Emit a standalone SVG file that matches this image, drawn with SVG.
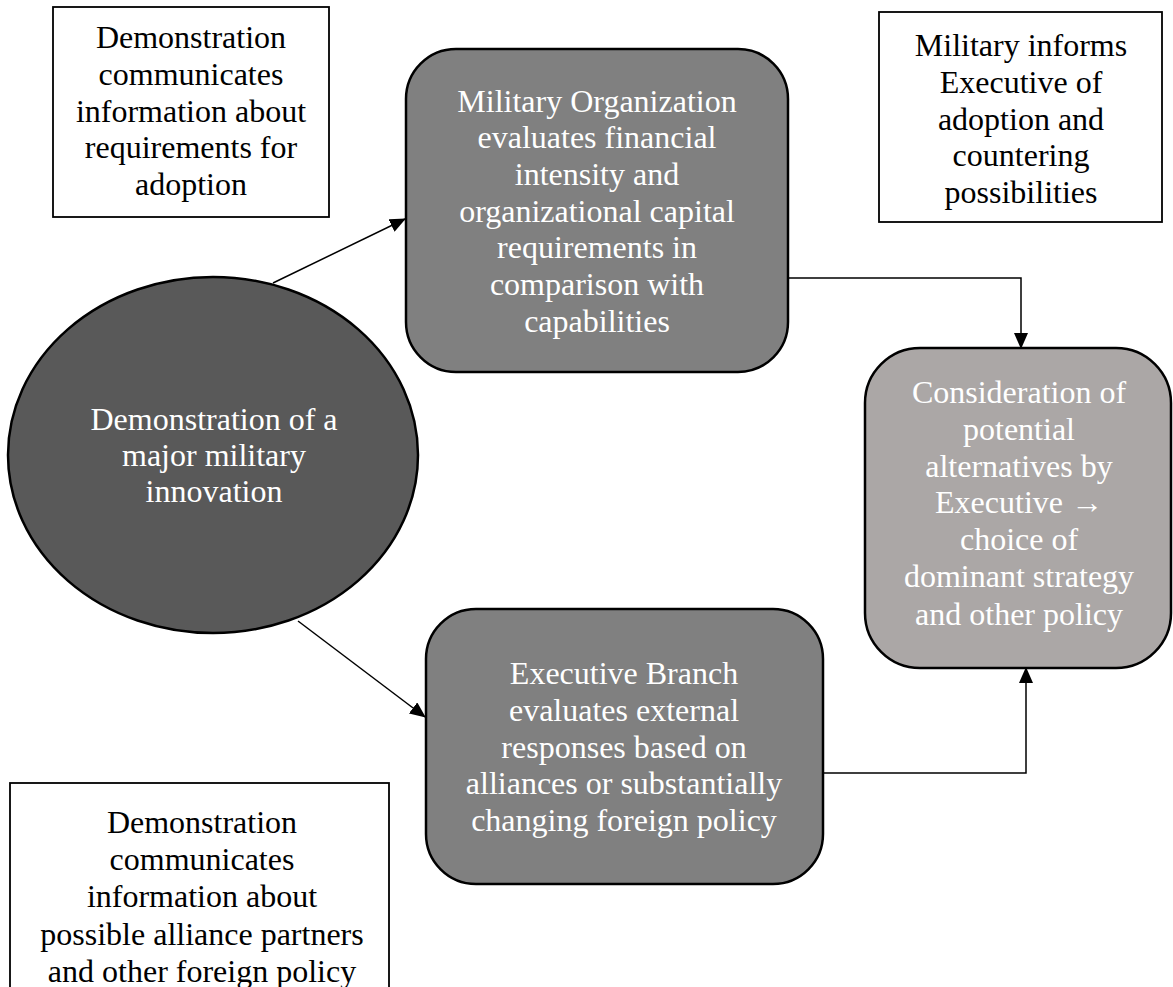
<svg xmlns="http://www.w3.org/2000/svg" width="1173" height="987" viewBox="0 0 1173 987">
<style>
  text { font-family: "Liberation Serif", "Times New Roman", serif; font-size: 32px; text-anchor: middle; }
  .w { fill: #ffffff; }
  .k { fill: #000000; }
  .note { fill: #ffffff; stroke: #000000; stroke-width: 1.8; }
  .node { stroke: #000000; stroke-width: 2.5; }
  .conn { fill: none; stroke: #000000; stroke-width: 1.5; }
</style>
<defs>
  <marker id="arr" markerUnits="userSpaceOnUse" markerWidth="16" markerHeight="14" refX="15" refY="7" orient="auto">
    <path d="M0,0 L16,7 L0,14 Z" fill="#000000"/>
  </marker>
</defs>
<rect x="0" y="0" width="1173" height="987" fill="#ffffff"/>

<g id="connectors">
  <line class="conn" x1="273" y1="283" x2="405" y2="219" marker-end="url(#arr)"/>
  <line class="conn" x1="298" y1="621" x2="425" y2="717" marker-end="url(#arr)"/>
  <polyline class="conn" points="788,278 1021,278 1021,348" marker-end="url(#arr)"/>
  <polyline class="conn" points="824,773 1026,773 1026,668" marker-end="url(#arr)"/>
</g>

<g id="note-top-left">
  <rect class="note" x="53" y="7" width="276" height="210"/>
  <text class="k" x="191" y="48">Demonstration</text>
  <text class="k" x="191" y="85">communicates</text>
  <text class="k" x="191" y="122">information about</text>
  <text class="k" x="191" y="158">requirements for</text>
  <text class="k" x="191" y="195">adoption</text>
</g>

<g id="note-top-right">
  <rect class="note" x="879" y="12" width="283" height="210"/>
  <text class="k" x="1021" y="56">Military informs</text>
  <text class="k" x="1021" y="93">Executive of</text>
  <text class="k" x="1021" y="130">adoption and</text>
  <text class="k" x="1021" y="166">countering</text>
  <text class="k" x="1021" y="203">possibilities</text>
</g>

<g id="note-bottom-left">
  <rect class="note" x="10" y="783" width="379" height="220"/>
  <text class="k" x="202" y="833">Demonstration</text>
  <text class="k" x="202" y="870">communicates</text>
  <text class="k" x="202" y="907">information about</text>
  <text class="k" x="202" y="945">possible alliance partners</text>
  <text class="k" x="202" y="982">and other foreign policy</text>
</g>

<g id="node-demonstration">
  <ellipse class="node" cx="213" cy="455" rx="205" ry="178" fill="#595959"/>
  <text class="w" x="214" y="430">Demonstration of a</text>
  <text class="w" x="214" y="466">major military</text>
  <text class="w" x="214" y="502">innovation</text>
</g>

<g id="node-military">
  <rect class="node" x="406" y="49" width="382" height="323" rx="50" ry="50" fill="#808080"/>
  <text class="w" x="597" y="112">Military Organization</text>
  <text class="w" x="597" y="148">evaluates financial</text>
  <text class="w" x="597" y="185">intensity and</text>
  <text class="w" x="597" y="222">organizational capital</text>
  <text class="w" x="597" y="258">requirements in</text>
  <text class="w" x="597" y="295">comparison with</text>
  <text class="w" x="597" y="332">capabilities</text>
</g>

<g id="node-executive">
  <rect class="node" x="426" y="609" width="397" height="275" rx="50" ry="50" fill="#808080"/>
  <text class="w" x="624" y="684">Executive Branch</text>
  <text class="w" x="624" y="721">evaluates external</text>
  <text class="w" x="624" y="758">responses based on</text>
  <text class="w" x="624" y="794">alliances or substantially</text>
  <text class="w" x="624" y="831">changing foreign policy</text>
</g>

<g id="node-consideration">
  <rect class="node" x="865" y="348" width="306" height="320" rx="55" ry="55" fill="#aba7a6"/>
  <text class="w" x="1019" y="403">Consideration of</text>
  <text class="w" x="1019" y="440">potential</text>
  <text class="w" x="1019" y="477">alternatives by</text>
  <text class="w" x="1019" y="513">Executive →</text>
  <text class="w" x="1019" y="550">choice of</text>
  <text class="w" x="1019" y="587">dominant strategy</text>
  <text class="w" x="1019" y="625">and other policy</text>
</g>
</svg>
